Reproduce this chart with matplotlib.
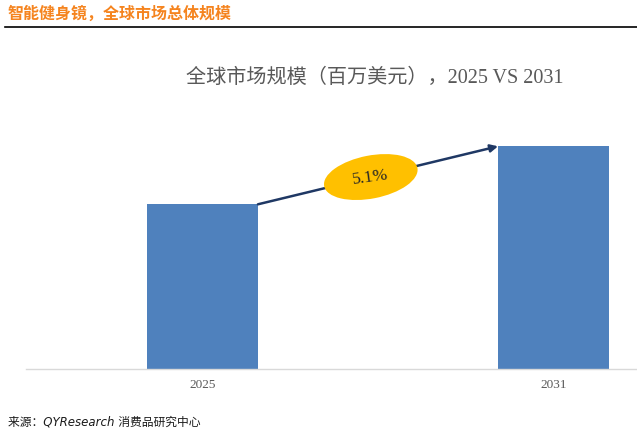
import matplotlib
matplotlib.use("Agg")
import matplotlib.pyplot as plt
import matplotlib.transforms as mtransforms
from matplotlib.patches import Ellipse
from matplotlib.lines import Line2D

# data (relative market size)
years = ["2025", "2031"]
values = [165, 223]
cagr_label = "5.1%"

header = "智能健身镜，全球市场总体规模"
title = "全球市场规模（百万美元），2025 VS 2031"
source = "来源：QYResearch 消费品研究中心"

W, H = 637, 437
fig = plt.figure(figsize=(W / 100, H / 100), dpi=100)

# axes placed in pixel terms
ax_left, ax_right, ax_bottom, ax_top = 26, 637, 369.3, 100
ax = fig.add_axes([ax_left / W, 1 - ax_bottom / H,
                   (ax_right - ax_left) / W, (ax_bottom - ax_top) / H])

bar_w = 0.316
x = [0, 1]
ax.bar(x, values, width=bar_w, color="#4F81BD", zorder=2)
ax.set_xlim(-0.5028, 1.2379)
ax.set_ylim(0, ax_bottom - ax_top)

for s in ["top", "left", "right"]:
    ax.spines[s].set_visible(False)
ax.spines["bottom"].set_color("#D9D9D9")
ax.spines["bottom"].set_linewidth(1.0)
ax.set_yticks([])
ax.set_xticks(x)
ax.set_xticklabels(years, fontsize=9.5, color="#595959",
                   family=["Liberation Serif", "DejaVu Serif"])
ax.tick_params(axis="x", length=0, pad=7)

# growth arrow between bar tops
x0, y0 = x[0] + bar_w / 2, values[0]
x1, y1 = x[1] - bar_w / 2, values[1]
ax.annotate("", xy=(x1, y1), xytext=(x0, y0),
            arrowprops=dict(arrowstyle="-|>", color="#1F3864", lw=1.8,
                            mutation_scale=11, shrinkA=0, shrinkB=0),
            zorder=3)

t = 0.47
cx, cy = x0 + (x1 - x0) * t, y0 + (y1 - y0) * t
ell_tr = fig.dpi_scale_trans + mtransforms.ScaledTranslation(cx, cy, ax.transData)
ell = Ellipse((0, 0), 0.95, 0.43, angle=11, facecolor="#FFC000",
              edgecolor="none", transform=ell_tr, zorder=4, clip_on=False)
ax.add_patch(ell)
ax.text(cx, cy, cagr_label, ha="center", va="center", rotation=8,
        fontsize=12.5, color="#262626", zorder=5,
        family=["Liberation Serif", "DejaVu Serif"])

# header, rule, title, source
fig.text(8 / W, 1 - 14 / H, header, ha="left", va="center", fontsize=11.5,
         fontweight="bold", color="#F5841F", family=["Noto Sans CJK SC"])
fig.add_artist(Line2D([5 / W, 1], [1 - 26.5 / H, 1 - 26.5 / H],
                      color="black", lw=1.2, transform=fig.transFigure))
fig.text(375 / W, 1 - 78 / H, title, ha="center", va="center", fontsize=14.5,
         color="#595959", family=["Liberation Serif", "Noto Sans CJK SC"])
fig.text(8 / W, 1 - 422 / H, source, ha="left", va="center", fontsize=8.5,
         style="italic", color="#1A1A1A",
         family=["DejaVu Sans", "Noto Sans CJK SC"])

fig.savefig("out.png", dpi=100)
